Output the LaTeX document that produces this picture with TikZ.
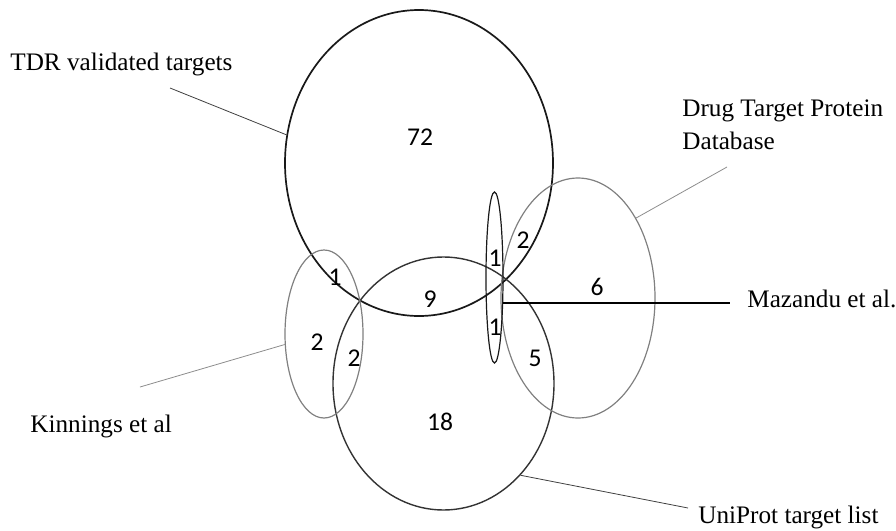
\documentclass[tikz,border=0pt]{standalone}
\usepackage{fontspec}
\setmainfont{Liberation Serif}
\newfontfamily\cifre{Carlito}
\usetikzlibrary{shapes.geometric}

\begin{document}
\begin{tikzpicture}[x=0.5pt, y=-0.5pt,
		insieme/.style={ellipse, draw=black!90, inner sep=0pt, line width=0.7pt},
		grigio/.style={draw=black!50, line width=0.6pt},
		numero/.style={font=\cifre\fontsize{12.8}{14}\selectfont, inner sep=0pt},
		etichetta/.style={font=\fontsize{12.6}{16.5}\selectfont, inner sep=0pt, align=left},
		guida/.style={line width=0.4pt}]
				% Bordo della figura
				\useasboundingbox (0,0) rectangle (896,531);
				
				% Insiemi
				\node[insieme, minimum width=134pt, minimum height=153pt, line width=0.85pt] (tdr) at (419,163) {};
				\node[insieme, minimum width=110.5pt, minimum height=126.5pt, draw=black!80] (uni) at (443.5,383.5) {};
				\node[insieme, grigio, minimum width=39pt, minimum height=84pt] (kin) at (324,334) {};
				\node[insieme, grigio, minimum width=77pt, minimum height=120pt] (dtp) at (578,298) {};
				\node[insieme, minimum width=8.5pt, minimum height=85.5pt, line width=0.6pt] (maz) at (494.5,277.5) {};
				
				% Numeri nelle regioni
				\node[numero] (n72) at (420,137) {72};
				\node[numero] (n2a) at (523,240) {2};
				\node[numero] (n1a) at (495,258) {1};
				\node[numero] (n6) at (597,287) {6};
				\node[numero] (n1b) at (495,327) {1};
				\node[numero] (n5) at (535,358) {5};
				\node[numero] (n9) at (430,299) {9};
				\node[numero] (n1c) at (335,277) {1};
				\node[numero] (n2b) at (317,342) {2};
				\node[numero] (n2c) at (354,358) {2};
				\node[numero] (n18) at (440,422) {18};
				
				% Etichette
				\node[etichetta, anchor=base west] (tdrlbl) at (10,70) {TDR validated targets};
				\node[etichetta, anchor=base west] (dtplbl) at (682,149) {Drug Target Protein\\Database};
				\node[etichetta, anchor=base west, inner xsep=8.5pt] (mazlbl) at (730,307) {Mazandu et al.};
				\node[etichetta, anchor=base west] (kinlbl) at (30,432) {Kinnings et al};
				\node[etichetta, anchor=base west] (unilbl) at (698,523) {UniProt target list};
				
				% Linee di richiamo
				\coordinate (tdrtip) at (170,88);
				\coordinate (dtptip) at (727,167);
				\coordinate (kintip) at (140,387);
				\coordinate (unitip) at (688,508);
				\draw[guida, black!75] (tdrtip) -- (tdr.168);
				\draw[guida, black!45] (dtptip) -- (dtp.54);
				\draw[guida, black!45] (kintip) -- (kin.195);
				\draw[guida, black!75] (uni.-50) -- (unitip);
				\draw[line width=0.8pt] (maz.-71.7) -- (maz.-71.7 -| mazlbl.west);
			\end{tikzpicture}
\end{document}
